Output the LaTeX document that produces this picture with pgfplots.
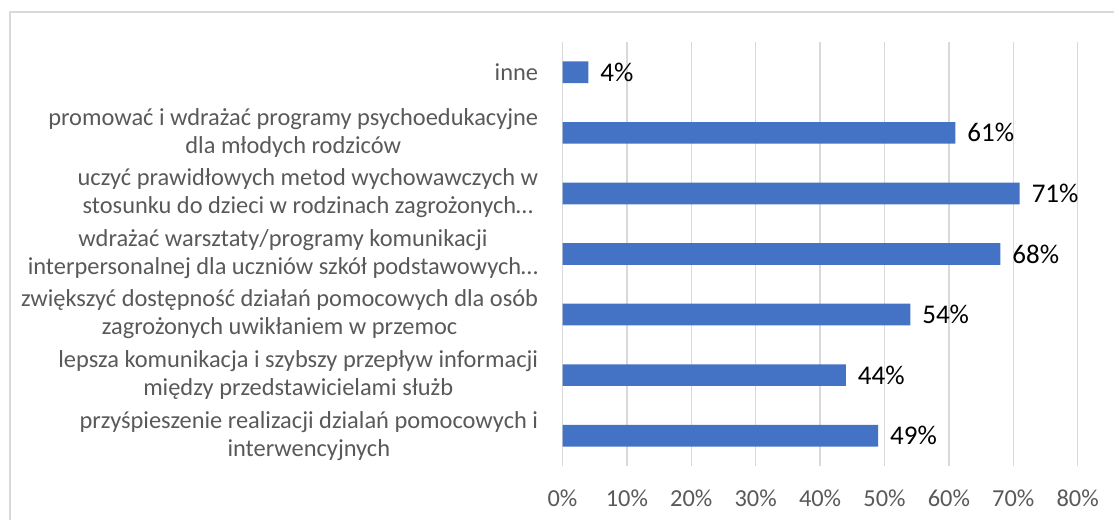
\documentclass[border=0pt]{standalone}
\usepackage{pgfplots}
\pgfplotsset{compat=1.18}
\usepackage{fontspec}
\setmainfont{Carlito}
\definecolor{barblue}{HTML}{4472C4}
\definecolor{gridgray}{HTML}{D9D9D9}
\definecolor{txtgray}{HTML}{595959}
\definecolor{framegray}{HTML}{D9D9D9}
\begin{document}
\begin{tikzpicture}
\path[use as bounding box] (0,0) rectangle (557pt,260pt);
\draw[framegray, line width=1pt] (4.75pt,0) -- (4.75pt,254pt) -- (557pt,254pt);
\begin{axis}[
  at={(281.25pt,27pt)}, anchor=south west,
  scale only axis, width=257.6pt, height=212pt,
  xbar, bar width=10.85pt,
  xmin=0, xmax=80, ymin=-0.5, ymax=6.5,
  xtick={0,10,...,80},
  xticklabel={\pgfmathprintnumber{\tick}\%},
  /pgf/number format/assume math mode=true,
  ytick={0,1,2,3,4,5,6},
  yticklabels={
    {przyśpieszenie realizacji dzialań pomocowych i\\interwencyjnych},
    {lepsza komunikacja i szybszy przepływ informacji\\między przedstawicielami służb},
    {zwiększyć dostępność działań pomocowych dla osób\\zagrożonych uwikłaniem w przemoc},
    {wdrażać warsztaty/programy komunikacji\\interpersonalnej dla uczniów szkół podstawowych…},
    {uczyć prawidłowych metod wychowawczych w\\stosunku do dzieci w rodzinach zagrożonych…},
    {promować i wdrażać programy psychoedukacyjne\\dla młodych rodziców},
    {inne}},
  major tick length=0pt,
  axis line style={draw=none},
  xmajorgrids, grid style={gridgray, line width=0.75pt},
  tick label style={font=\fontsize{12.2}{14}\selectfont, text=txtgray},
  yticklabel style={align=center, anchor=east, inner sep=0pt, xshift=-12pt},
  xticklabel style={anchor=center, inner sep=0pt, yshift=-16pt},
  nodes near coords={\pgfmathprintnumber{\pgfplotspointmeta}\%},
  nodes near coords style={font=\fontsize{13.5}{15}\selectfont, text=black, anchor=west, xshift=2.5pt, /pgf/number format/assume math mode=true},
  point meta=x,
  clip=false,
]
\addplot[fill=barblue, draw=none] coordinates {
  (49,0) (44,1) (54,2) (68,3) (71,4) (61,5) (4,6)
};
\end{axis}
\end{tikzpicture}
\end{document}
